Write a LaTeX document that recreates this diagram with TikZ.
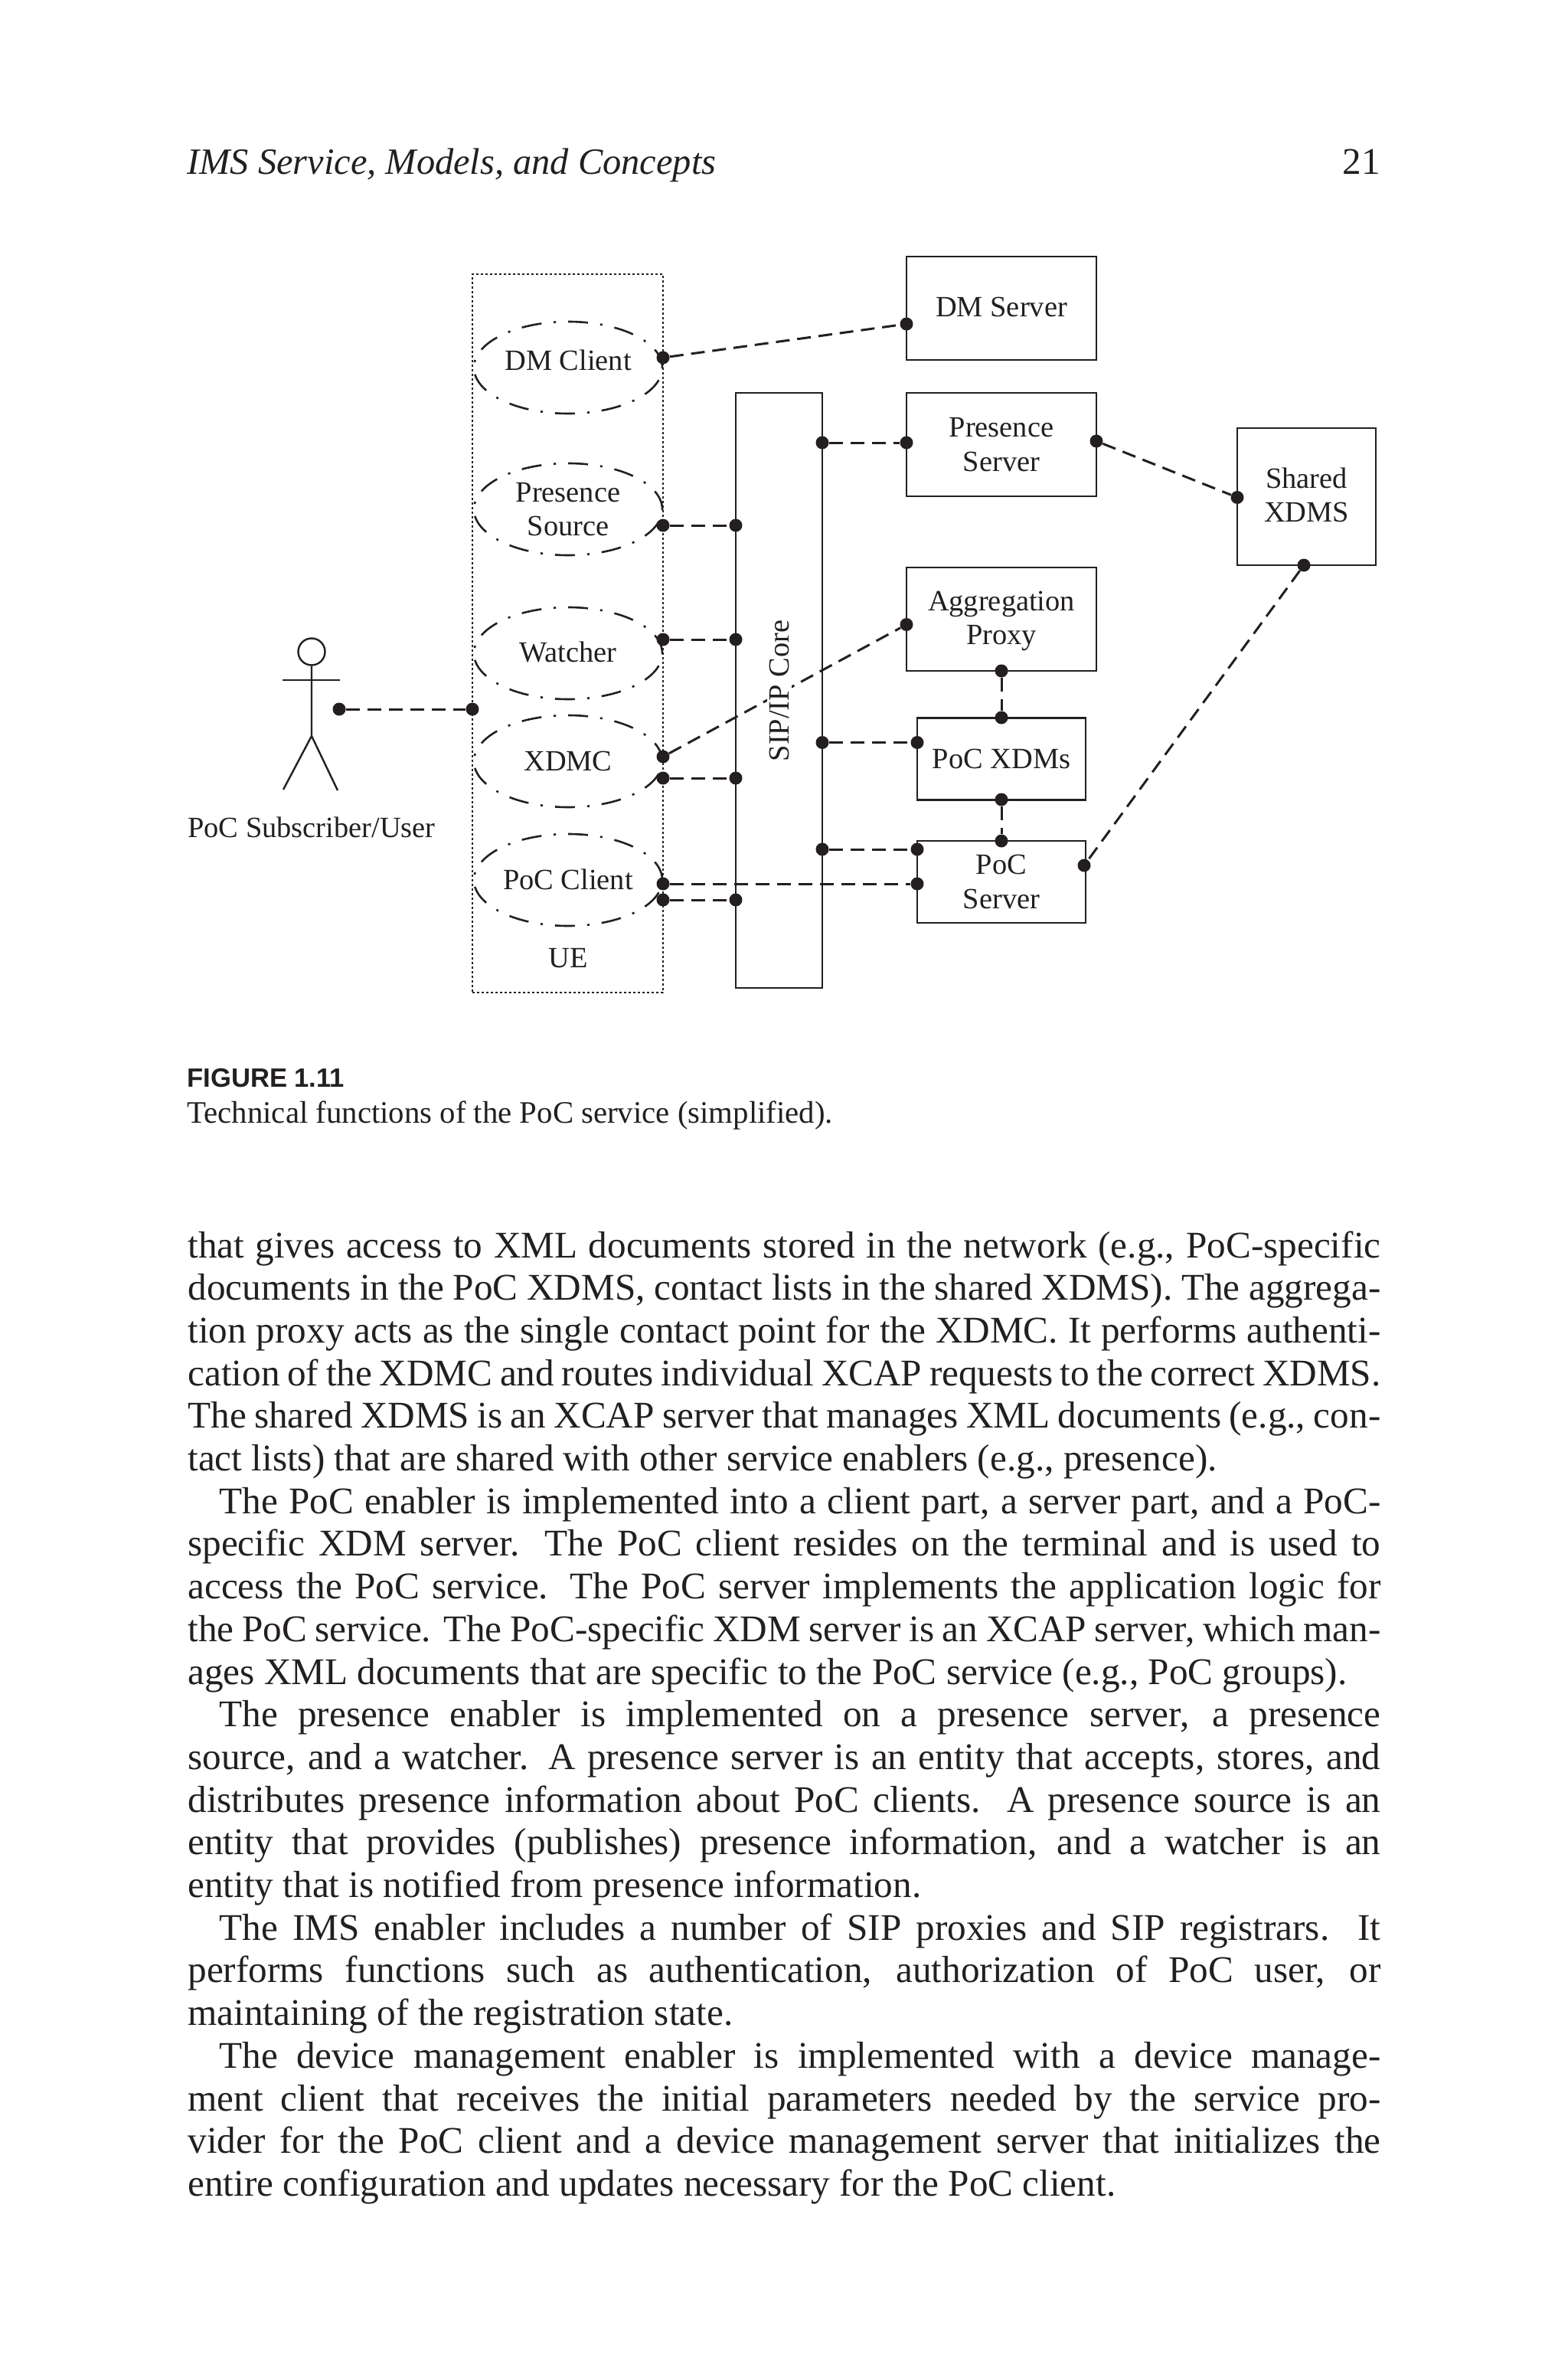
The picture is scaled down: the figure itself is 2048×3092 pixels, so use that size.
\documentclass[tikz,border=0pt]{standalone}
\usepackage{fontspec}
\setmainfont{Liberation Serif}
\setsansfont{Liberation Sans}
\usepackage{xcolor}
\usetikzlibrary{shapes.geometric}
\definecolor{ink}{HTML}{231F20}
\newcommand{\figfont}{\fontsize{19.2}{22.3}\selectfont}
\newcommand{\bodyfont}{\fontsize{24.6}{27.85}\selectfont}
\newcommand{\indentpar}{\hspace*{20.5pt}}
\newcommand{\lift}[2]{\raisebox{#1}[\height][\depth]{#2}}
\newcommand{\twolines}[2]{\begin{tabular}{@{}c@{}}#1\\#2\end{tabular}}
\tikzset{
  client/.style={ellipse,draw,line width=1.3pt,minimum width=123pt,minimum height=60pt,inner sep=0pt,align=center,font=\figfont,dash pattern=on 13pt off 8pt on 1.5pt off 8pt},
  server/.style={rectangle,draw,line width=1.4pt,minimum width=124pt,minimum height=67.5pt,inner sep=0pt,align=center,font=\figfont},
  pocbox/.style={server,minimum width=110pt,minimum height=53.5pt},
  port/.style={circle,fill=ink,inner sep=0pt,minimum size=8.5pt},
  link/.style={dash pattern=on 9pt off 5pt,line width=1.5pt},
  figlabel/.style={inner sep=0pt,font=\figfont}
}
\begin{document}
\begin{tikzpicture}[x=0.5pt,y=-0.5pt,color=ink]
\useasboundingbox (0,0) rectangle (2048,3092);
\node[inner sep=0pt,anchor=base west,font=\fontsize{24.2}{27.8}\selectfont\itshape] (head) at (244,228) {IMS Service, Models, and Concepts};
\node[inner sep=0pt,anchor=base east,font=\bodyfont] (pageno) at (1803,228) {21};

\node[rectangle,draw,line width=1.4pt,dash pattern=on 1.7pt off 1.3pt,minimum width=124.5pt,minimum height=469pt,inner sep=0pt] (ue) at (741.5,827) {};
\node[client] (dmc) at (742,480) {\lift{5pt}{DM Client}};
\node[client] (src) at (742,665) {Presence\\Source};
\node[client] (wat) at (742,853) {\lift{1pt}{Watcher}};
\node[client] (xdmc) at (742,994) {XDMC};
\node[client] (poc) at (742,1149) {\lift{0.5pt}{PoC Client}};
\node[figlabel,anchor=base] (uelabel) at (742,1263) {UE};

\node[rectangle,draw,line width=1.4pt,minimum width=56.5pt,minimum height=388.5pt] (sip) at (1017.5,901.5) {};
\node[server] (dmsrv) at (1308,402.5) {\lift{1pt}{DM Server}};
\node[server] (presrv) at (1308,580.5) {Presence\\Server};
\node[server] (aggr) at (1308,808.5) {\lift{-1pt}{\twolines{Aggregation}{Proxy}}};
\node[pocbox] (xdms) at (1308,991) {PoC XDMs};
\node[pocbox] (pocsrv) at (1308,1151.5) {PoC\\Server};
\node[server,minimum width=90.5pt,minimum height=89.5pt] (shared) at (1706.5,648.5) {\lift{-1pt}{\twolines{Shared}{XDMS}}};

\node[circle,draw,line width=1.2pt,inner sep=0pt,minimum size=17.5pt] (actor) at (407,851) {};
\coordinate (hip) at (407,961);
\coordinate (armL) at (369,888);
\coordinate (armR) at (444,888);
\coordinate (footL) at (370,1031);
\coordinate (footR) at (441,1032);
\draw[line width=1.2pt] (actor) -- (hip) -- (footL);
\draw[line width=1.2pt] (hip) -- (footR);
\draw[line width=1.2pt] (armL) -- (armR);
\node[figlabel,anchor=base] (user) at (407,1093) {PoC Subscriber/User};

\node[port] (p1) at (443,926) {};
\node[port] (p2) at (617,926) {};
\node[port] (p3) at (866,467) {};
\node[port] (p4) at (1184,423) {};
\node[port] (p5) at (866,686) {};
\node[port] (p6) at (961,686) {};
\node[port] (p7) at (866,835) {};
\node[port] (p8) at (961,835) {};
\node[port] (p9) at (866,988) {};
\node[port] (p10) at (1184,815.5) {};
\node[port] (p11) at (866,1016) {};
\node[port] (p12) at (961,1016) {};
\node[port] (p13) at (866,1154) {};
\node[port] (p14) at (1198,1154) {};
\node[port] (p15) at (866,1175) {};
\node[port] (p16) at (961,1175) {};
\node[port] (p17) at (1074,578) {};
\node[port] (p18) at (1184,578) {};
\node[port] (p19) at (1432,576) {};
\node[port] (p20) at (1616,649.5) {};
\node[port] (p21) at (1703,738) {};
\node[port] (p22) at (1416,1130) {};
\node[port] (p23) at (1308,876) {};
\node[port] (p24) at (1308,937) {};
\node[port] (p25) at (1074,969.5) {};
\node[port] (p26) at (1198,969.5) {};
\node[port] (p27) at (1308,1044) {};
\node[port] (p28) at (1308,1098) {};
\node[port] (p29) at (1074,1109) {};
\node[port] (p30) at (1198,1109) {};

\path[link] (p1) edge (p2);
\path[link] (p3) edge (p4);
\path[link] (p5) edge (p6);
\path[link] (p7) edge (p8);
\path[link] (p9) edge (p10);
\path[link] (p11) edge (p12);
\path[link] (p13) edge (p14);
\path[link] (p15) edge (p16);
\path[link] (p17) edge (p18);
\path[link] (p19) edge (p20);
\path[link] (p21) edge (p22);
\path[link] (p23) edge (p24);
\path[link] (p25) edge (p26);
\path[link] (p27) edge (p28);
\path[link] (p29) edge (p30);

\node[figlabel,rotate=90,fill=white,inner sep=1.5pt] (core) at (1018,902) {SIP/IP Core};

\node[inner sep=0pt,anchor=base west,font=\fontsize{17.3}{20}\selectfont\sffamily\bfseries] (figno) at (244,1419) {FIGURE 1.11};
\node[inner sep=0pt,anchor=base west,font=\fontsize{20.4}{24}\selectfont] (caption) at (244,1466) {Technical functions of the PoC service (simplified).};

\node[inner sep=0pt,anchor=base west,text width=779pt,align=justify,font=\bodyfont] (body) at (245,1642) {%
that gives access to XML documents stored in the network (e.g., PoC-specific\linebreak
documents in the PoC XDMS, contact lists in the shared XDMS). The aggrega-\linebreak
tion proxy acts as the single contact point for the XDMC. It performs authenti-\linebreak
cation of the XDMC and routes individual XCAP requests to the correct XDMS.\linebreak
The shared XDMS is an XCAP server that manages XML documents (e.g., con-\linebreak
tact lists) that are shared with other service enablers (e.g., presence).\par
\indentpar The PoC enabler is implemented into a client part, a server part, and a PoC-\linebreak
specific XDM server. The PoC client resides on the terminal and is used to\linebreak
access the PoC service. The PoC server implements the application logic for\linebreak
the PoC service. The PoC-specific XDM server is an XCAP server, which man-\linebreak
ages XML documents that are specific to the PoC service (e.g., PoC groups).\par
\indentpar The presence enabler is implemented on a presence server, a presence\linebreak
source, and a watcher. A presence server is an entity that accepts, stores, and\linebreak
distributes presence information about PoC clients. A presence source is an\linebreak
entity that provides (publishes) presence information, and a watcher is an\linebreak
entity that is notified from presence information.\par
\indentpar The IMS enabler includes a number of SIP proxies and SIP registrars. It\linebreak
performs functions such as authentication, authorization of PoC user, or\linebreak
maintaining of the registration state.\par
\indentpar The device management enabler is implemented with a device manage-\linebreak
ment client that receives the initial parameters needed by the service pro-\linebreak
vider for the PoC client and a device management server that initializes the\linebreak
entire configuration and updates necessary for the PoC client.};
\end{tikzpicture}
\end{document}
